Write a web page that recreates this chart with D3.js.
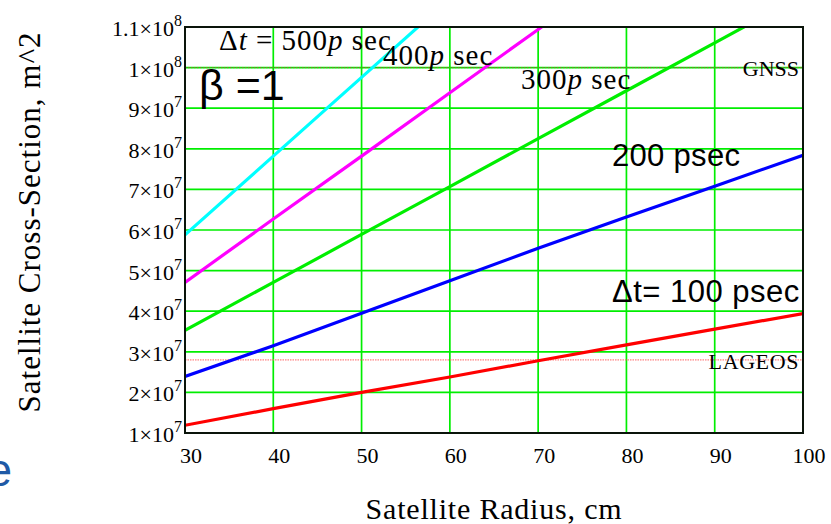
<!DOCTYPE html>
<html>
<head>
<meta charset="utf-8">
<script src="https://cdn.jsdelivr.net/npm/d3@7"></script>
<style>
  html, body { margin: 0; padding: 0; background: #fff; }
  svg { display: block; }
</style>
</head>
<body>
<svg id="chart" width="831" height="524"></svg>
<script>
// ---------- data ----------
const radius = [30, 40, 50, 60, 70, 80, 90, 100];            // cm
const cs100 = [1.19e7, 1.60e7, 2.00e7, 2.38e7, 2.78e7, 3.17e7, 3.56e7, 3.94e7];
const cs200 = [2.39e7, 3.15e7, 3.95e7, 4.75e7, 5.55e7, 6.32e7, 7.08e7, 7.84e7];
const cs300 = [3.53e7, 4.71e7, 5.89e7, 7.07e7, 8.25e7, 9.43e7, 1.061e8, 1.179e8];
const cs400 = [4.71e7, 6.27e7, 7.82e7, 9.38e7, 1.094e8, 1.250e8];
const cs500 = [5.88e7, 7.82e7, 9.76e7, 1.170e8];
const lageosCS = 2.8e7;
const gnssCS = 1.0e8;
const xTicks = [30, 40, 50, 60, 70, 80, 90, 100];
const yTicks = [1e7, 2e7, 3e7, 4e7, 5e7, 6e7, 7e7, 8e7, 9e7, 1e8, 1.1e8];
const seriesNames = ["100 psec", "200 psec", "300 psec", "400 psec", "500 psec"];

// ---------- layout ----------
const L = 185, R = 803, T = 27, B = 433;
const serif = "'Liberation Serif', 'Times New Roman', serif";
const sans = "'Liberation Sans', Arial, sans-serif";

const svg = d3.select("#chart");
const x = d3.scaleLinear().domain([30, 100]).range([L, R]);
const y = d3.scaleLinear().domain([1e7, 1.1e8]).range([B, T]);

svg.append("defs").append("clipPath").attr("id", "plotClip")
  .append("rect").attr("x", L).attr("y", T).attr("width", R - L).attr("height", B - T);

// grid
const grid = svg.append("g");
grid.selectAll("line.h").data(yTicks).join("line")
  .attr("x1", L).attr("x2", R)
  .attr("y1", d => y(d)).attr("y2", d => y(d))
  .attr("stroke", "#00ee00").attr("stroke-width", 1.7);
grid.selectAll("line.v").data(xTicks).join("line")
  .attr("y1", T).attr("y2", B)
  .attr("x1", d => x(d)).attr("x2", d => x(d))
  .attr("stroke", "#00ee00").attr("stroke-width", 1.7);

// reference lines
svg.append("line").attr("x1", L).attr("x2", R).attr("y1", y(lageosCS)).attr("y2", y(lageosCS))
  .attr("stroke", "#ff6060").attr("stroke-width", 1).attr("stroke-dasharray", "1.5,1");
svg.append("line").attr("x1", L).attr("x2", R).attr("y1", y(gnssCS)).attr("y2", y(gnssCS))
  .attr("stroke", "#c04040").attr("stroke-width", 0.8).attr("stroke-dasharray", "1.5,1.5");

// series
const series = [
  { vals: cs100, color: "#ff0000" },
  { vals: cs200, color: "#0000ff" },
  { vals: cs300, color: "#00ee00" },
  { vals: cs400, color: "#ff00ff" },
  { vals: cs500, color: "#00ffff" }
];
const line = d3.line().x(d => x(d[0])).y(d => y(d[1]));
const lines = svg.append("g").attr("clip-path", "url(#plotClip)");
series.forEach(s => {
  const pts = s.vals.map((v, i) => [radius[i], v]);
  lines.append("path").datum(pts).attr("d", line)
    .attr("fill", "none").attr("stroke", s.color).attr("stroke-width", 3.2);
});

// frame
svg.append("rect").attr("x", L).attr("y", T).attr("width", R - L).attr("height", B - T)
  .attr("fill", "none").attr("stroke", "#0a140a").attr("stroke-width", 2);

// y tick labels
const yl = svg.append("g").attr("font-family", serif).attr("fill", "#000");
yTicks.forEach(v => {
  const e = Math.floor(Math.log10(v) + 1e-9);
  const m = +(v / Math.pow(10, e)).toFixed(2);
  const t = yl.append("text").attr("x", 182).attr("y", y(v) + 9)
    .attr("text-anchor", "end").attr("font-size", 22);
  t.append("tspan").text(m + "\u00d710");
  t.append("tspan").attr("dy", -10).attr("font-size", 16).text(e);
});

// x tick labels
svg.append("g").selectAll("text").data(xTicks).join("text")
  .attr("x", d => x(d) + 6).attr("y", 463)
  .attr("text-anchor", "middle").attr("font-family", serif).attr("font-size", 22)
  .text(d => d);

// axis titles
svg.append("text").attr("x", 494).attr("y", 519)
  .attr("text-anchor", "middle").attr("font-family", serif).attr("font-size", 30)
  .attr("letter-spacing", 0.8)
  .text("Satellite Radius, cm");
svg.append("text").attr("transform", "translate(40,222) rotate(-90)")
  .attr("text-anchor", "middle").attr("font-family", serif).attr("font-size", 31)
  .attr("letter-spacing", 1)
  .text("Satellite Cross-Section, m^2");

// annotations
const ann = svg.append("g").attr("fill", "#000");
const t500 = ann.append("text").attr("x", 219).attr("y", 50).attr("font-family", serif)
  .attr("font-size", 29).attr("letter-spacing", 1);
t500.append("tspan").text("\u0394");
t500.append("tspan").attr("font-style", "italic").text("t");
t500.append("tspan").text(" = 500");
t500.append("tspan").attr("font-style", "italic").text("p");
t500.append("tspan").text(" sec");

const t400 = ann.append("text").attr("x", 383).attr("y", 65).attr("font-family", serif)
  .attr("font-size", 29).attr("letter-spacing", 1);
t400.append("tspan").text("400");
t400.append("tspan").attr("font-style", "italic").text("p");
t400.append("tspan").text(" sec");

const t300 = ann.append("text").attr("x", 521).attr("y", 89).attr("font-family", serif)
  .attr("font-size", 29).attr("letter-spacing", 1);
t300.append("tspan").text("300");
t300.append("tspan").attr("font-style", "italic").text("p");
t300.append("tspan").text(" sec");

ann.append("text").attr("x", 799).attr("y", 76).attr("text-anchor", "end")
  .attr("font-family", serif).attr("font-size", 22).text("GNSS");
ann.append("text").attr("x", 799).attr("y", 369).attr("text-anchor", "end")
  .attr("font-family", serif).attr("font-size", 22).attr("letter-spacing", 0.6).text("LAGEOS");

ann.append("text").attr("x", 199).attr("y", 100).attr("font-family", sans).attr("font-size", 43)
  .text("\u03b2 =1");
ann.append("text").attr("x", 612).attr("y", 166).attr("font-family", sans).attr("font-size", 31)
  .attr("letter-spacing", 0.3)
  .text(seriesNames[1]);
ann.append("text").attr("x", 612).attr("y", 302).attr("font-family", sans).attr("font-size", 31)
  .attr("letter-spacing", 0.5)
  .text("\u0394t= " + seriesNames[0]);

// fragment of slide text at the left edge
svg.append("text").attr("x", 12).attr("y", 486).attr("text-anchor", "end")
  .attr("font-family", sans).attr("font-size", 46).attr("fill", "#1f5aa6").text("e");
</script>
</body>
</html>
